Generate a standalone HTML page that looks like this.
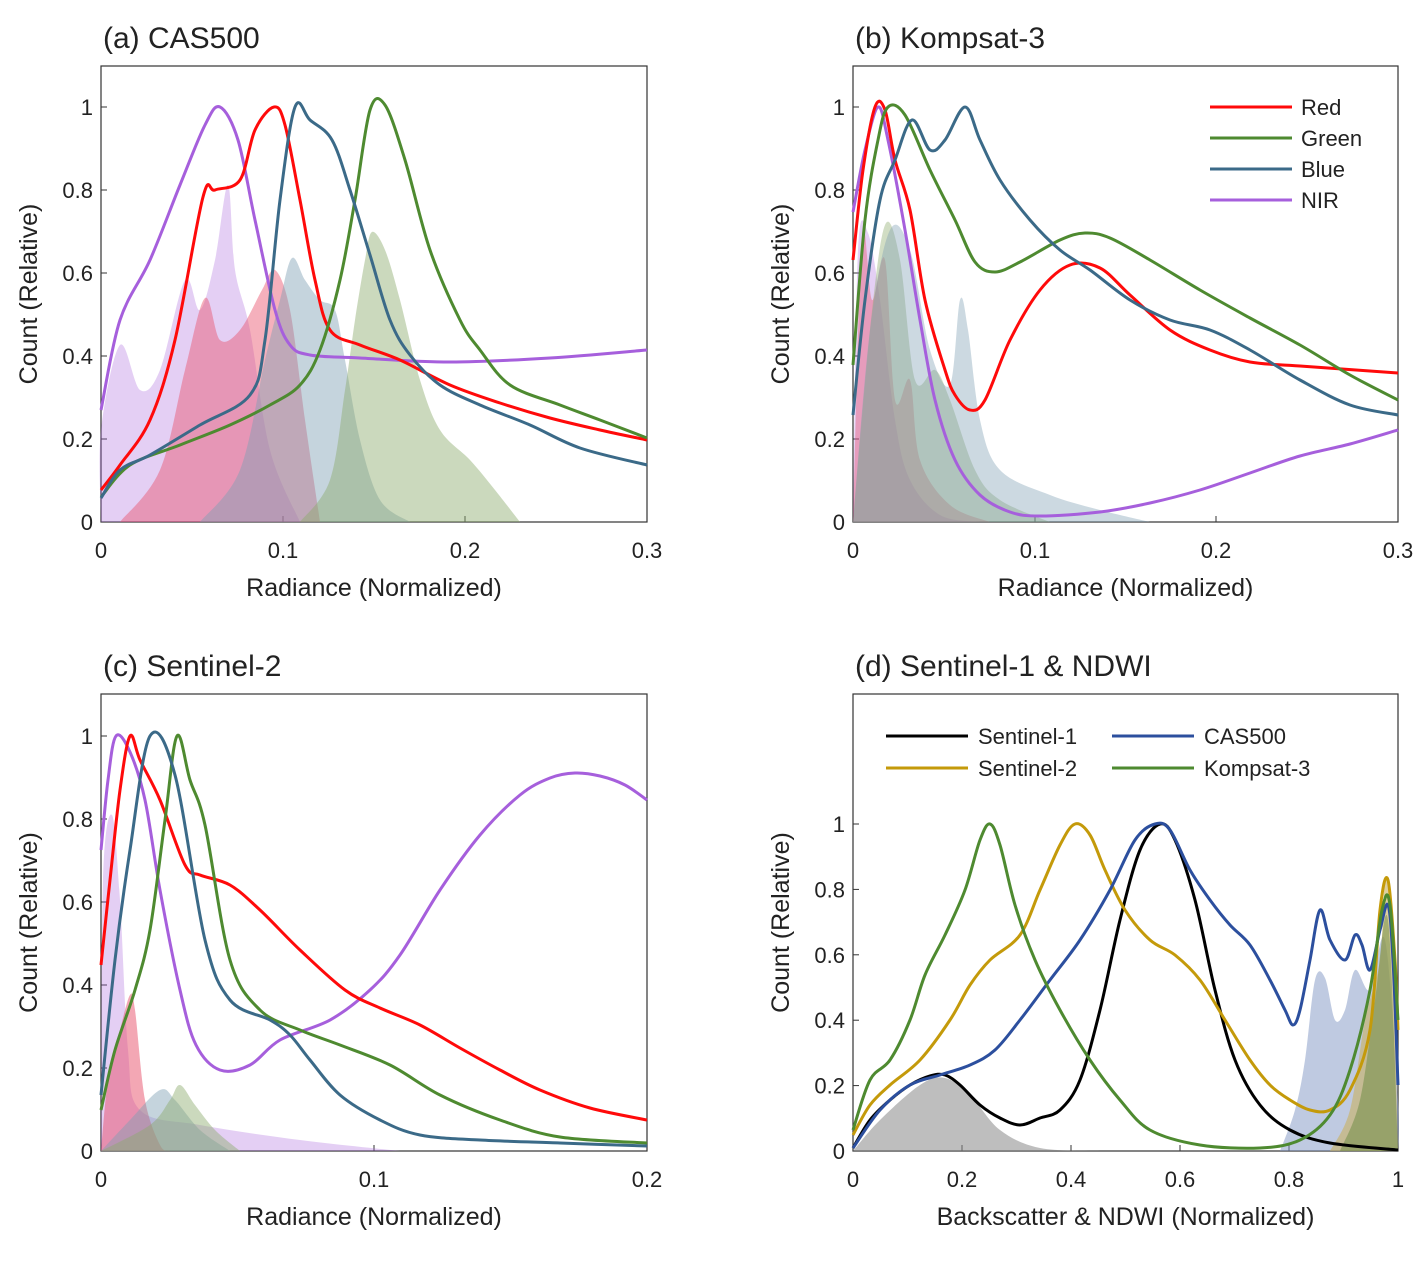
<!DOCTYPE html>
<html><head><meta charset="utf-8"><style>
body{margin:0;background:#fff}
svg text{font-family:"Liberation Sans",sans-serif;fill:#222}
</style></head><body>
<svg id="s" width="1428" height="1259" xmlns="http://www.w3.org/2000/svg">
<g font-size="30">
<text x="103" y="48">(a) CAS500</text>
<text x="855" y="48">(b) Kompsat-3</text>
<text x="103" y="676">(c) Sentinel-2</text>
<text x="855" y="676">(d) Sentinel-1 &amp; NDWI</text>
</g>
<g id="g"></g>
</svg>
<script>
const g=document.getElementById('g');let h='';
function smooth(p){let d=`M${p[0][0]},${p[0][1]}`;for(let i=0;i<p.length-1;i++){const a=p[Math.max(i-1,0)],b=p[i],c=p[i+1],e=p[Math.min(i+2,p.length-1)];
 const c1=[b[0]+(c[0]-a[0])/6,b[1]+(c[1]-a[1])/6],c2=[c[0]-(e[0]-b[0])/6,c[1]-(e[1]-b[1])/6];d+=`C${c1[0].toFixed(1)},${c1[1].toFixed(1)} ${c2[0].toFixed(1)},${c2[1].toFixed(1)} ${c[0]},${c[1]}`;}return d;}
function poly(pts,c,w,fill,op){
 if(fill) h+=`<path d="${smooth(pts)}Z" fill="${c}" fill-opacity="${op}" stroke="none"/>`;
 else h+=`<path d="${smooth(pts)}" fill="none" stroke="${c}" stroke-width="${w}" stroke-linejoin="round"/>`;}
function axes(x0,x1,y0,y1,xt,yt,xl){
 h+=`<rect x="${x0}" y="${y0}" width="${x1-x0}" height="${y1-y0}" fill="none" stroke="#333" stroke-width="1.2"/>`;
 xt.forEach(t=>{h+=`<line x1="${t[0]}" x2="${t[0]}" y1="${y1}" y2="${y1-6}" stroke="#333"/><text x="${t[0]}" y="${y1+36}" font-size="22" text-anchor="middle">${t[1]}</text>`});
 yt.forEach(t=>{h+=`<line x1="${x0}" x2="${x0+6}" y1="${t[0]}" y2="${t[0]}" stroke="#333"/><text x="${x0-8}" y="${t[0]+8}" font-size="22" text-anchor="end">${t[1]}</text>`});
 h+=`<text x="${(x0+x1)/2}" y="${y1+74}" font-size="25" text-anchor="middle">${xl}</text>`;
 h+=`<text transform="translate(${x0-64},${(y0+y1)/2}) rotate(-90)" font-size="25" text-anchor="middle">Count (Relative)</text>`;}
const R='#ff0a0a',G='#4e8a30',B='#3b6a88',P='#a65fdc';
function yt1(y0){return [0,0.2,0.4,0.6,0.8,1].map(v=>[y0-v*415,v===0?'0':(v===1?'1':v)]);}
// Panel A
axes(101,647,66,522,[[101,'0'],[283,'0.1'],[465,'0.2'],[647,'0.3']],yt1(522),'Radiance (Normalized)');
poly([[101,522],[101,430],[120,345],[140,390],[160,370],[185,280],[200,310],[215,260],[228,185],[235,270],[250,330],[270,450],[300,522]],P,0,1,0.3);
poly([[120,522],[160,470],[185,370],[205,298],[220,340],[240,330],[262,290],[275,270],[290,310],[305,420],[320,522]],'#e8506a',0,1,0.45);
poly([[200,522],[240,470],[265,360],[280,300],[292,258],[305,280],[320,300],[335,310],[345,360],[360,440],[380,500],[410,522]],'#7fa0b4',0,1,0.45);
poly([[300,522],[330,480],[345,390],[355,320],[365,260],[372,232],[385,250],[400,300],[420,380],[440,430],[470,460],[495,490],[520,522]],'#8caa6c',0,1,0.45);
poly([[101,410],[120,320],[150,260],[180,185],[205,125],[220,107],[238,140],[255,220],[275,310],[290,345],[310,355],[360,358],[450,362],[550,358],[647,350]],P,3);
poly([[101,490],[120,465],[150,420],[175,340],[203,197],[215,190],[240,180],[255,130],[274,107],[285,125],[300,200],[315,280],[330,330],[360,345],[400,360],[450,385],[500,403],[550,418],[600,430],[647,440]],R,3);
poly([[101,497],[130,465],[180,445],[230,425],[270,405],[300,385],[320,350],[340,280],[355,200],[370,110],[385,105],[405,160],[430,250],[460,320],[480,350],[510,385],[560,405],[600,420],[647,438]],G,3);
poly([[101,498],[120,470],[150,455],[200,425],[250,395],[265,340],[280,200],[295,107],[310,120],[332,140],[350,190],[370,255],[390,320],[410,355],[440,385],[480,405],[530,425],[580,448],[647,465]],B,3);
// Panel B
axes(853,1398,66,522,[[853,'0'],[1035,'0.1'],[1216,'0.2'],[1398,'0.3']],yt1(522),'Radiance (Normalized)');
poly([[853,522],[858,250],[868,233],[880,300],[895,420],[910,480],[940,515],[980,522]],P,0,1,0.3);
poly([[853,522],[862,236],[872,300],[885,260],[895,400],[910,380],[920,460],[950,505],[990,522]],'#e8506a',0,1,0.4);
poly([[853,522],[870,330],[885,225],[900,260],[915,380],[935,370],[950,400],[975,470],[1000,500],[1050,522]],'#8caa6c',0,1,0.4);
poly([[853,522],[870,330],[890,230],[910,250],[930,350],[950,385],[960,300],[968,330],[980,420],[1000,470],[1050,495],[1100,510],[1150,522]],'#7fa0b4',0,1,0.4);
poly([[853,212],[865,150],[878,107],[888,140],[905,230],[920,320],[935,400],[955,460],[980,495],[1010,512],[1040,516],[1100,512],[1150,503],[1200,490],[1250,473],[1300,456],[1350,444],[1398,430]],P,3);
poly([[853,260],[863,170],[875,107],[885,110],[895,160],[910,210],[925,300],[945,370],[955,395],[970,410],[985,400],[1010,340],[1040,290],[1070,265],[1100,268],[1130,295],[1170,330],[1210,350],[1250,362],[1300,366],[1398,373]],R,3);
poly([[853,365],[865,220],[878,140],[888,107],[905,115],[930,170],[955,220],[975,262],[995,272],[1020,262],[1060,240],[1085,233],[1110,238],[1150,260],[1200,290],[1250,318],[1300,345],[1350,375],[1398,400]],G,3);
poly([[853,415],[865,300],[880,200],[895,160],[912,120],[930,150],[945,140],[965,107],[980,140],[1000,180],[1030,220],[1060,250],[1090,270],[1130,300],[1170,320],[1210,330],[1250,350],[1300,380],[1350,405],[1398,415]],B,3);
[['Red',R,107],['Green',G,138],['Blue',B,169],['NIR',P,200]].forEach(l=>{h+=`<line x1="1210" x2="1292" y1="${l[2]}" y2="${l[2]}" stroke="${l[1]}" stroke-width="3"/><text x="1301" y="${l[2]+8}" font-size="22">${l[0]}</text>`});
// Panel C
axes(101,647,694,1151,[[101,'0'],[374,'0.1'],[647,'0.2']],yt1(1151),'Radiance (Normalized)');
poly([[101,1151],[103,880],[112,815],[120,900],[128,1050],[140,1110],[200,1125],[300,1140],[400,1151]],P,0,1,0.3);
poly([[101,1151],[108,1080],[120,1030],[130,995],[135,1010],[145,1100],[160,1145],[170,1151]],'#e8506a',0,1,0.5);
poly([[101,1151],[130,1120],[160,1090],[175,1100],[200,1130],[230,1151]],'#7fa0b4',0,1,0.45);
poly([[101,1151],[150,1125],[170,1100],[180,1085],[195,1105],[215,1130],[240,1151]],'#8caa6c',0,1,0.45);
poly([[101,850],[108,780],[116,736],[130,752],[145,800],[160,890],[180,990],[196,1045],[220,1070],[250,1065],[280,1040],[330,1020],[370,990],[400,955],[440,890],[480,835],[520,795],[550,778],[575,773],[600,776],[625,785],[647,800]],P,3);
poly([[101,965],[110,880],[120,790],[130,736],[140,760],[160,800],[185,865],[200,875],[230,885],[260,910],[300,950],[345,990],[380,1008],[420,1025],[460,1048],[500,1070],[540,1090],[590,1108],[647,1120]],R,3);
poly([[101,1110],[115,1050],[135,990],[150,930],[165,820],[177,736],[190,780],[205,825],[230,960],[260,1010],[300,1030],[340,1045],[390,1065],[440,1095],[500,1120],[560,1137],[647,1143]],G,3);
poly([[101,1095],[115,960],[130,850],[150,736],[175,775],[205,940],[230,1000],[270,1020],[290,1035],[310,1060],[340,1095],[380,1120],[420,1135],[480,1140],[560,1143],[647,1146]],B,3);
// Panel D
axes(853,1398,694,1151,[[853,'0'],[962,'0.2'],[1071,'0.4'],[1180,'0.6'],[1289,'0.8'],[1398,'1']],[0,0.2,0.4,0.6,0.8,1].map(v=>[1151-v*327,v===0?'0':(v===1?'1':v)]),'Backscatter &amp; NDWI (Normalized)');
const DB='#2c4f9e',DG='#c49a0a';
poly([[853,1151],[880,1120],[920,1085],[945,1078],[970,1095],[1000,1130],[1040,1148],[1100,1151]],'#888',0,1,0.55);
poly([[1280,1151],[1295,1110],[1305,1060],[1315,980],[1325,978],[1335,1020],[1345,1010],[1355,970],[1370,990],[1385,940],[1398,1100],[1398,1151]],'#7f96c4',0,1,0.5);
poly([[1330,1151],[1350,1110],[1365,1020],[1380,960],[1385,880],[1392,930],[1398,1151]],'#c9b060',0,1,0.6);
poly([[1340,1151],[1360,1100],[1375,1000],[1388,920],[1398,1151]],'#6a8a40',0,1,0.5);
poly([[853,1148],[870,1120],[890,1100],[910,1085],[930,1076],[945,1075],[960,1085],[980,1105],[1000,1118],[1020,1125],[1040,1118],[1060,1110],[1080,1080],[1100,1010],[1120,920],[1140,850],[1160,824],[1175,840],[1195,900],[1215,990],[1235,1060],[1260,1105],[1290,1130],[1330,1143],[1398,1150]],'#000',3);
poly([[853,1135],[870,1105],[890,1085],[920,1060],[950,1020],[970,985],[990,960],[1020,935],[1040,890],[1060,845],[1075,824],[1090,835],[1105,870],[1125,910],[1150,940],[1175,955],[1200,980],[1225,1020],[1250,1060],[1270,1085],[1290,1100],[1310,1110],[1330,1110],[1350,1090],[1370,1030],[1380,910],[1388,880],[1395,960],[1398,1030]],DG,3);
poly([[853,1148],[880,1110],[910,1085],[940,1075],[970,1065],[995,1050],[1020,1020],[1050,980],[1080,940],[1110,890],[1135,840],[1155,824],[1170,830],[1190,870],[1210,900],[1230,925],[1250,945],[1270,980],[1285,1010],[1293,1025],[1300,1010],[1310,960],[1320,910],[1330,940],[1345,960],[1355,935],[1362,945],[1370,970],[1380,930],[1388,905],[1393,960],[1398,1085]],DB,3);
poly([[853,1130],[870,1080],[890,1060],[910,1020],[925,975],[945,935],[965,890],[980,840],[990,824],[1000,845],[1015,905],[1035,960],[1060,1010],[1090,1060],[1120,1100],[1150,1130],[1200,1145],[1260,1148],[1300,1140],[1330,1115],[1350,1070],[1370,990],[1382,910],[1390,905],[1398,1020]],G,3);
[['Sentinel-1','#000',886,736],['Sentinel-2',DG,886,768],['CAS500',DB,1112,736],['Kompsat-3',G,1112,768]].forEach(l=>{h+=`<line x1="${l[2]}" x2="${l[2]+82}" y1="${l[3]}" y2="${l[3]}" stroke="${l[1]}" stroke-width="3"/><text x="${l[2]+92}" y="${l[3]+8}" font-size="22">${l[0]}</text>`});
g.innerHTML=h;
</script>
</body></html>
